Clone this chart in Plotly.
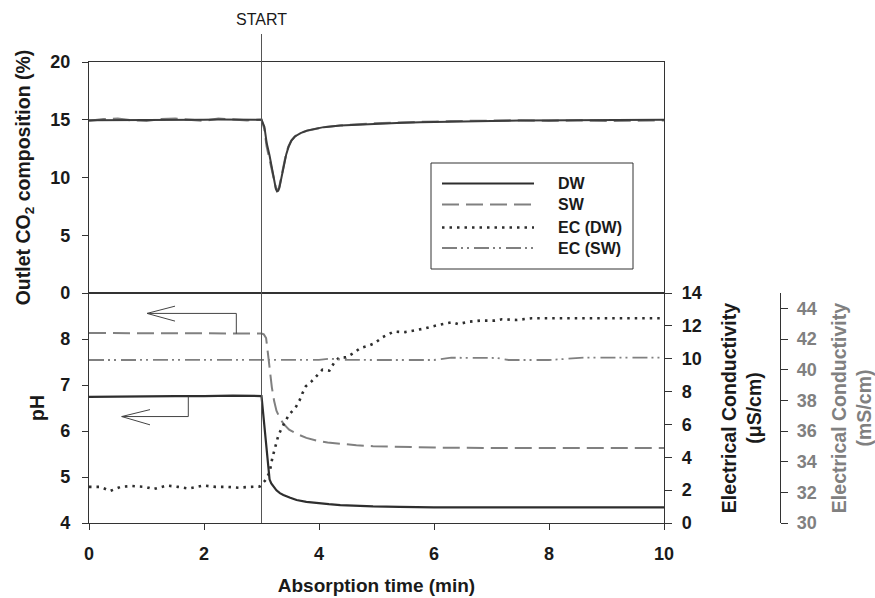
import plotly.graph_objects as go

# ---------------- data ----------------
# Outlet CO2 composition (%)
t_co2 = [0, 0.25, 0.5, 0.75, 1.0, 1.25, 1.5, 1.75, 2.0, 2.25, 2.5, 2.75, 3.0,
         3.05, 3.09, 3.14, 3.18, 3.22, 3.25, 3.27, 3.29, 3.31, 3.34, 3.37, 3.40, 3.43, 3.47,
         3.52, 3.58, 3.68, 3.79, 3.93, 4.08, 4.37, 4.65, 4.94, 5.35, 5.76, 6.3,
         7.0, 7.5, 8.0, 8.5, 9.0, 9.5, 10.0]
co2_dw = [14.95, 14.95, 14.98, 15.0, 15.0, 14.97, 14.95, 15.0, 15.0, 15.02, 15.0, 15.0, 15.0,
          14.4, 13.0, 11.9, 10.9, 9.6, 9.0, 8.8, 8.85, 9.1, 9.8, 10.7, 11.4, 12.0, 12.65,
          13.2, 13.55, 13.85, 14.06, 14.22, 14.36, 14.5, 14.58, 14.64, 14.72, 14.79, 14.86,
          14.9, 14.93, 14.95, 14.97, 14.98, 14.98, 15.0]
co2_sw = [14.9, 15.05, 15.1, 14.95, 14.9, 15.05, 15.1, 15.0, 14.9, 15.1, 15.05, 14.95, 15.0,
          14.2, 12.7, 11.6, 10.6, 9.7, 9.1, 8.9, 8.95, 9.2, 9.9, 10.8, 11.5, 12.1, 12.7,
          13.2, 13.55, 13.85, 14.05, 14.2, 14.35, 14.5, 14.6, 14.68, 14.75, 14.82, 14.88,
          14.92, 14.95, 14.9, 14.95, 14.9, 14.95, 14.95]

# pH, distilled water (DW)
t_ph_dw = [0, 0.5, 1.0, 1.5, 2.0, 2.5, 3.0, 3.05, 3.1, 3.14, 3.17, 3.21, 3.26, 3.32,
           3.38, 3.5, 3.61, 3.78, 3.96, 4.17, 4.37, 4.65, 4.94, 5.4, 6.0, 7.0, 8.0, 9.0, 10.0]
ph_dw = [6.74, 6.75, 6.75, 6.76, 6.76, 6.77, 6.76, 6.12, 5.45, 4.95, 4.86, 4.79, 4.71, 4.65,
         4.61, 4.55, 4.5, 4.46, 4.43, 4.41, 4.39, 4.37, 4.36, 4.35, 4.34, 4.34, 4.34, 4.34, 4.34]

# pH, seawater (SW)
t_ph_sw = [0, 0.5, 1.0, 1.5, 2.0, 2.5, 3.0, 3.04, 3.08, 3.12, 3.15, 3.18, 3.22, 3.26, 3.32,
           3.38, 3.48, 3.61, 3.78, 3.96, 4.15, 4.37, 4.65, 4.94, 5.5, 6.0, 7.0, 8.0, 9.0, 10.0]
ph_sw = [8.13, 8.13, 8.13, 8.13, 8.13, 8.13, 8.12, 8.1, 8.02, 7.6, 7.25, 6.95, 6.65, 6.44, 6.28,
         6.16, 6.03, 5.94, 5.85, 5.79, 5.75, 5.72, 5.69, 5.67, 5.65, 5.64, 5.63, 5.63, 5.63, 5.63]

# Electrical conductivity, DW (uS/cm)
t_ec_dw = [0, 0.2, 0.37, 0.55, 0.75, 0.98, 1.12, 1.35, 1.55, 1.73, 1.99, 2.2, 2.4, 2.6, 2.8,
           2.97, 3.06, 3.14, 3.19, 3.25, 3.29, 3.34, 3.41, 3.48, 3.59, 3.66, 3.71, 3.77, 3.87,
           3.97, 4.06, 4.18, 4.26, 4.35, 4.47, 4.6, 4.72, 4.86, 4.97, 5.1, 5.3, 5.5, 5.81,
           6.08, 6.31, 6.42, 6.6, 6.8, 7.06, 7.18, 7.44, 7.7, 8.0, 8.5, 9.0, 9.5, 10.0]
ec_dw = [2.2, 2.2, 1.95, 2.2, 2.25, 2.2, 2.06, 2.28, 2.2, 2.1, 2.28, 2.2, 2.2, 2.15, 2.2,
         2.22, 2.57, 3.07, 3.98, 4.79, 5.29, 5.7, 6.2, 6.61, 7.01, 7.45, 7.88, 8.32, 8.62,
         8.97, 9.33, 9.27, 9.74, 10.08, 10.08, 10.34, 10.65, 10.79, 10.95, 11.3, 11.65, 11.62, 11.82,
         12.06, 12.22, 12.1, 12.25, 12.32, 12.32, 12.4, 12.36, 12.46, 12.46, 12.46, 12.46, 12.46, 12.46]

# Electrical conductivity, SW (mS/cm)
t_ec_sw = [0, 1.0, 2.0, 3.0, 3.5, 4.0, 4.2, 4.4, 5.0, 6.0, 6.3, 7.1, 7.3, 8.0, 8.6, 9.0, 10.0]
ec_sw = [40.63, 40.63, 40.64, 40.63, 40.63, 40.64, 40.72, 40.64, 40.63, 40.63, 40.78, 40.76,
         40.63, 40.63, 40.78, 40.78, 40.78]

x_ticks = [0, 2, 4, 6, 8, 10]
co2_ticks = [0, 5, 10, 15, 20]
ph_ticks = [4, 5, 6, 7, 8]
ec_us_ticks = [0, 2, 4, 6, 8, 10, 12, 14]
ec_ms_ticks = [30, 32, 34, 36, 38, 40, 42, 44]
legend_names = ["DW", "SW", "EC (DW)", "EC (SW)"]

# ---------------- style / geometry ----------------
FONT = "Liberation Sans, Arial, Helvetica, sans-serif"
W, H = 875, 598
ML, MR, MT, MB = 89, 11, 62, 75
PW = W - ML - MR
PH = H - MT - MB
XEND = (664 - ML) / PW
SPLIT = (523 - 293) / PH
DARK = "#2e2e2e"
GREY = "#808080"


def px_x(p):
    return (p - ML) / PW


def px_y(p):
    return (H - MB - p) / PH


dash_sw = "17px,7px"
dash_ecdw = "2.5px,5px"
dash_ecsw = "15px,4px,2px,4px,2px,5px"

fig = go.Figure()

# top panel
fig.add_trace(go.Scatter(x=t_co2, y=co2_sw, mode="lines", xaxis="x2", yaxis="y",
                         line=dict(color=GREY, width=2.2, dash=dash_sw), showlegend=False))
fig.add_trace(go.Scatter(x=t_co2, y=co2_dw, mode="lines", xaxis="x2", yaxis="y",
                         line=dict(color="#3c3c3c", width=2), showlegend=False))

# bottom panel
fig.add_trace(go.Scatter(x=t_ph_sw, y=ph_sw, mode="lines", xaxis="x", yaxis="y2",
                         line=dict(color=GREY, width=2, dash=dash_sw), showlegend=False))
fig.add_trace(go.Scatter(x=t_ph_dw, y=ph_dw, mode="lines", xaxis="x", yaxis="y2",
                         line=dict(color=DARK, width=2.2), showlegend=False))
fig.add_trace(go.Scatter(x=t_ec_sw, y=ec_sw, mode="lines", xaxis="x", yaxis="y4",
                         line=dict(color=GREY, width=1.8, dash=dash_ecsw), showlegend=False))
fig.add_trace(go.Scatter(x=t_ec_dw, y=ec_dw, mode="lines", xaxis="x", yaxis="y3",
                         line=dict(color=DARK, width=2.6, dash=dash_ecdw), showlegend=False))

tickfont = dict(family=FONT, size=18, color="#1a1a1a", weight="bold")
titlefont = dict(family=FONT, size=19.5, color="#1a1a1a")
axcommon = dict(showgrid=False, zeroline=False, showline=True, linecolor="#333", linewidth=1.2,
                ticks="outside", tickcolor="#333", tickwidth=1.2, automargin=False)

fig.update_layout(
    width=W, height=H,
    margin=dict(l=ML, r=MR, t=MT, b=MB, pad=0, autoexpand=False),
    paper_bgcolor="white", plot_bgcolor="white",
    font=dict(family=FONT, color="#1a1a1a"),
    showlegend=False,
    xaxis=dict(domain=[0, XEND], anchor="y2", range=[0, 10], tickvals=x_ticks,
               ticklen=6, mirror=True, tickfont=tickfont, ticklabelstandoff=8,
               title=dict(text="<b>Absorption time (min)</b>",
                          font=dict(family=FONT, size=19, color="#1a1a1a"), standoff=15),
               **axcommon),
    xaxis2=dict(domain=[0, XEND], anchor="y", range=[0, 10], matches="x",
                showticklabels=False, showgrid=False, zeroline=False, showline=True,
                linecolor="#333", linewidth=1.2, mirror=True, ticks="", automargin=False),
    yaxis=dict(domain=[SPLIT, 1], anchor="x2", range=[0, 20], tickvals=co2_ticks,
               ticklen=6, mirror=True, tickfont=tickfont, ticklabelstandoff=8,
               title=dict(text="<b>Outlet CO<sub>2</sub> composition (%)</b>", font=titlefont,
                          standoff=14),
               **axcommon),
    yaxis2=dict(domain=[0, SPLIT], anchor="x", range=[4, 9], tickvals=ph_ticks,
                ticklen=6, tickfont=tickfont, ticklabelstandoff=8,
                title=dict(text="<b>pH</b>", font=titlefont, standoff=10),
                **axcommon),
    yaxis3=dict(overlaying="y2", anchor="x", side="right", range=[0, 14], tickvals=ec_us_ticks,
                ticklen=7, tickfont=tickfont, ticklabelstandoff=6,
                title=dict(text="<b>Electrical Conductivity<br>(\u03bcS/cm)</b>", font=titlefont,
                           standoff=21),
                **axcommon),
    yaxis4=dict(overlaying="y2", anchor="free", side="right", position=px_x(780),
                range=[30, 45], tickvals=ec_ms_ticks, ticklen=7,
                tickfont=dict(family=FONT, size=18, color=GREY, weight="bold"),
                ticklabelstandoff=5,
                title=dict(text="<b>Electrical Conductivity<br>(mS/cm)</b>",
                           font=dict(family=FONT, size=19.5, color=GREY), standoff=19),
                showgrid=False, zeroline=False, showline=True, linecolor="#333", linewidth=1.2,
                ticks="outside", tickcolor="#333", tickwidth=1.2, automargin=False),
)

shapes = []
# START line
shapes.append(dict(type="line", xref="x", yref="paper", x0=3, x1=3, y0=0, y1=px_y(34),
                   line=dict(color="#555", width=1)))
# arrows pointing to the pH axis
shapes.append(dict(type="path", xref="x", yref="y2",
                   path="M 2.562,8.115 L 2.562,8.556 L 1.009,8.556",
                   line=dict(color="#444", width=1)))
shapes.append(dict(type="path", xref="x", yref="y2",
                   path="M 1.496,8.714 L 1.009,8.556 L 1.496,8.389",
                   line=dict(color="#444", width=1)))
shapes.append(dict(type="path", xref="x", yref="y2",
                   path="M 1.727,6.746 L 1.727,6.314 L 0.569,6.314",
                   line=dict(color="#444", width=1)))
shapes.append(dict(type="path", xref="x", yref="y2",
                   path="M 1.061,6.465 L 0.569,6.314 L 1.061,6.134",
                   line=dict(color="#444", width=1)))

# legend box
shapes.append(dict(type="rect", xref="paper", yref="paper",
                   x0=px_x(431), x1=px_x(633), y0=px_y(269), y1=px_y(163),
                   line=dict(color="#333", width=1), fillcolor="white", layer="above"))
leg_rows = [183.5, 204.5, 227.5, 248]
leg_styles = [dict(color=DARK, width=2.2),
              dict(color=GREY, width=2, dash=dash_sw),
              dict(color=DARK, width=2.6, dash=dash_ecdw),
              dict(color=GREY, width=1.8, dash=dash_ecsw)]
annotations = []
for name, row, st in zip(legend_names, leg_rows, leg_styles):
    shapes.append(dict(type="line", xref="paper", yref="paper", x0=px_x(442), x1=px_x(534),
                       y0=px_y(row), y1=px_y(row), line=st, layer="above"))
    annotations.append(dict(text="<b>%s</b>" % name, xref="paper", yref="paper",
                            x=px_x(556), y=px_y(row), xanchor="left", yanchor="middle",
                            showarrow=False, font=dict(family=FONT, size=16, color="#1a1a1a")))

annotations.append(dict(text="START", xref="x", yref="paper", x=3, y=px_y(19),
                        xanchor="center", yanchor="middle", showarrow=False,
                        font=dict(family=FONT, size=16, color="#1a1a1a")))

fig.update_layout(shapes=shapes, annotations=annotations)

fig.write_html("out.html")
